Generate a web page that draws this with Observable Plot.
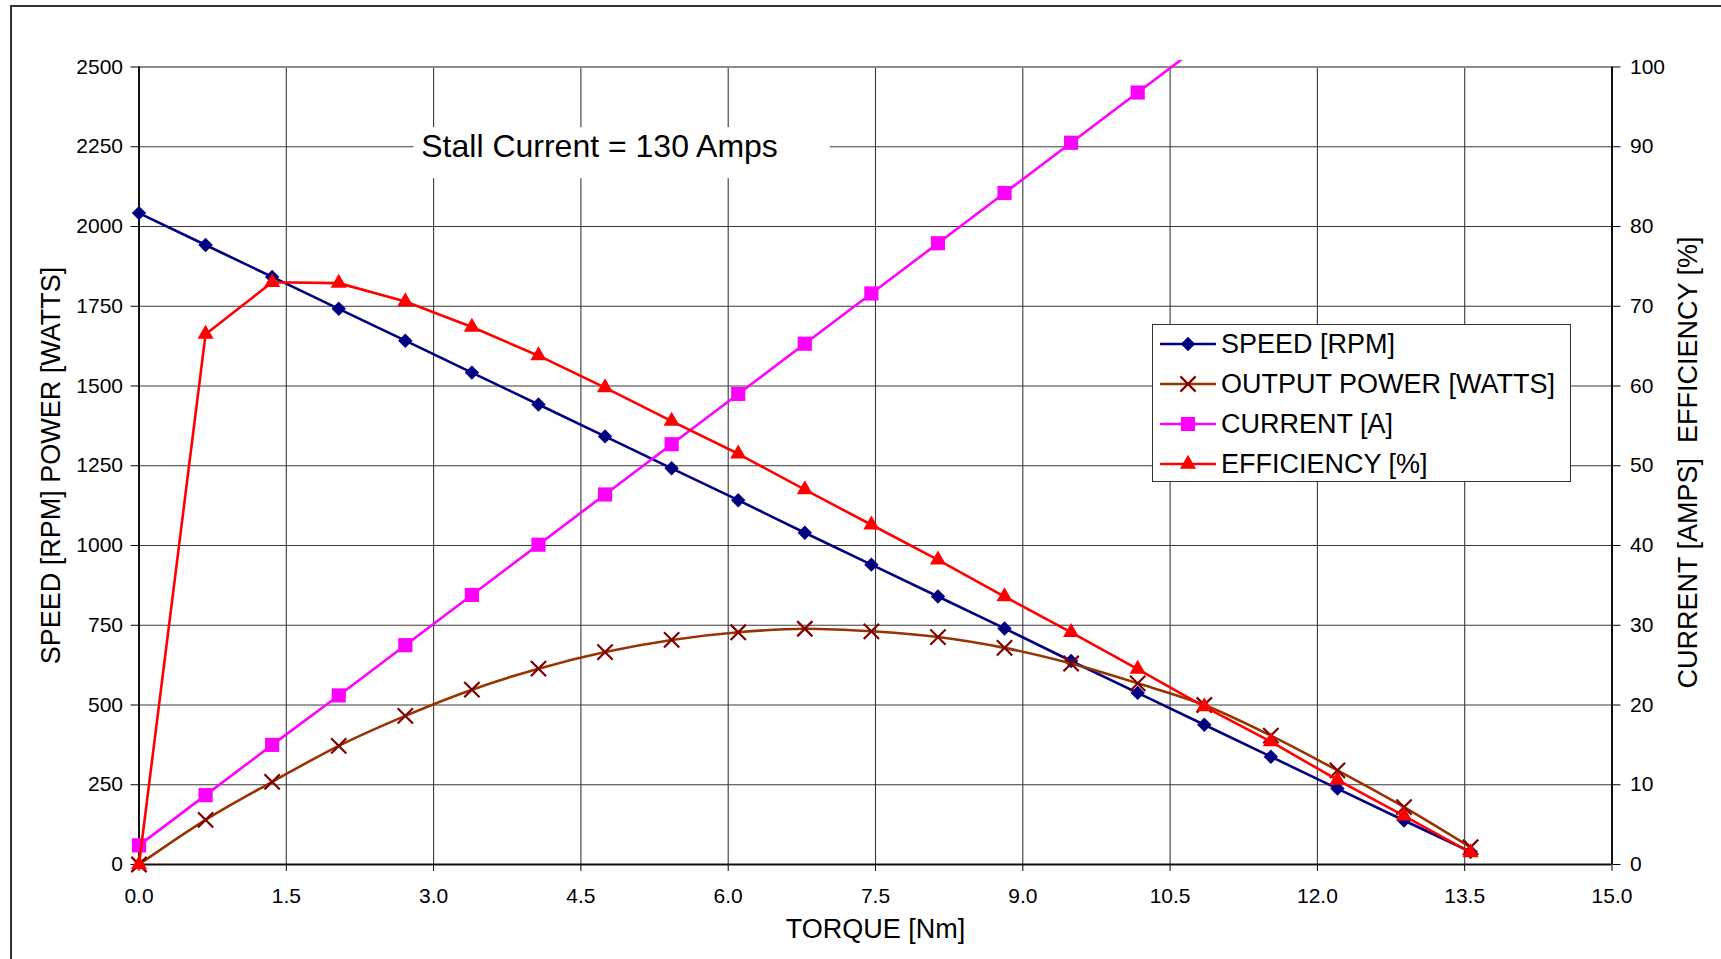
<!DOCTYPE html>
<html><head><meta charset="utf-8">
<script src="https://cdn.jsdelivr.net/npm/d3@7"></script>
<script src="https://cdn.jsdelivr.net/npm/@observablehq/plot@0.6"></script>
<style>
html,body{margin:0;padding:0;background:#fff;overflow:hidden;}
#wrap{position:relative;width:1721px;height:959px;font-family:"Liberation Sans",Arial,sans-serif;}
#chart{position:absolute;left:0;top:0;}
#border{position:absolute;left:10px;top:5px;width:1730px;height:970px;border-top:2px solid #333;border-left:2px solid #333;}
#legend{position:absolute;left:1152px;top:324px;width:417px;height:156px;border:1.5px solid #333;background:#fff;}
.row{position:absolute;left:0;height:40px;display:flex;align-items:center;font-size:27px;color:#000;white-space:nowrap;}
.row svg{margin-left:5px;margin-right:3px;}
</style></head>
<body><div id="wrap"><div id="chart"></div><div id="border"></div><div id="legend"></div></div>
<script>
// ---- data ----
const torque = [0, 0.678, 1.356, 2.034, 2.712, 3.39, 4.068, 4.746, 5.424, 6.102, 6.78, 7.458, 8.136, 8.814, 9.492, 10.17, 10.848, 11.526, 12.204, 12.882, 13.56];
const speed = [2042, 1942, 1842, 1742, 1642, 1542, 1442, 1342, 1242, 1142, 1040, 940, 840, 740, 638, 538, 438, 338, 238, 138, 40];
const power = [0, 140, 259, 372, 466, 548, 614, 666, 704, 728, 739, 731, 713, 679, 630, 568, 500, 404, 295, 180, 54];
const current = [2.4, 8.7, 15.0, 21.2, 27.5, 33.8, 40.1, 46.4, 52.7, 59.0, 65.3, 71.6, 77.9, 84.2, 90.5, 96.8, 103.1, 109.4, 115.7, 122.0, 128.3];
const efficiency = [0, 66.5, 73.0, 72.9, 70.6, 67.4, 63.8, 59.8, 55.6, 51.5, 47.0, 42.6, 38.2, 33.6, 29.1, 24.5, 19.8, 15.4, 10.6, 6.1, 1.5];
const xTicks = [0, 1.5, 3, 4.5, 6, 7.5, 9, 10.5, 12, 13.5, 15];
const leftTicks = [0, 250, 500, 750, 1000, 1250, 1500, 1750, 2000, 2250, 2500];
const rightTicks = [0, 10, 20, 30, 40, 50, 60, 70, 80, 90, 100];
const seriesNames = ["SPEED [RPM]", "OUTPUT POWER [WATTS]", "CURRENT [A]", "EFFICIENCY [%]"];
const seriesColors = ["#000080", "#993300", "#ff00ff", "#ff0000"];
const markerColors = ["#000080", "#800000", "#ff00ff", "#ff0000"];
const annotation = "Stall Current = 130 Amps";

const k = leftTicks[leftTicks.length - 1] / rightTicks[rightTicks.length - 1]; // secondary axis factor
const rows = torque.map((t, i) => ({t, speed: speed[i], power: power[i], current: current[i], eff: efficiency[i]}));

const font = '"Liberation Sans", Arial, sans-serif';
const plot = Plot.plot({
  width: 1721, height: 959,
  marginLeft: 138.5, marginRight: 109.5, marginTop: 60, marginBottom: 95,
  x: {domain: [0, 15]},
  y: {domain: [0, 2500], range: [864, 66.5]},
  style: {fontFamily: font, fontSize: "21px", color: "#000", background: "#fff", overflow: "visible"},
  marks: [
    Plot.gridY(leftTicks, {stroke: "#3a3a3a", strokeOpacity: 1, strokeWidth: 1.1}),
    Plot.ruleX(xTicks, {y1: 0, y2: 2500, stroke: "#3a3a3a", strokeWidth: 1.1}),
    Plot.ruleY([2500], {stroke: "#8a8a8a", strokeWidth: 2.2}),
    Plot.rect([annotation], {x1: 2.8, x2: 7.04, y1: 2150, y2: 2310, fill: "#fff"}),
    Plot.text([annotation], {x: 4.69, y: 2250, fontSize: 32, fill: "#000"}),
    Plot.axisX(xTicks, {tickFormat: d3.format(".1f"), tickSize: 7, tickPadding: 17, fontSize: 21, label: null}),
    Plot.axisY(leftTicks, {anchor: "left", tickFormat: d => String(d), tickSize: 8, tickPadding: 8, fontSize: 21, label: null}),
    Plot.axisY(rightTicks.map(v => v * k), {anchor: "right", tickFormat: d => String(d / k), tickSize: 8, tickPadding: 10, fontSize: 21, label: null}),
    Plot.ruleX([0], {y1: 0, y2: 2500, stroke: "#111", strokeWidth: 2}),
    Plot.ruleX([15], {y1: 0, y2: 2500, stroke: "#111", strokeWidth: 2}),
    Plot.ruleY([0], {stroke: "#111", strokeWidth: 2}),
    Plot.text(["SPEED [RPM] POWER [WATTS]"], {frameAnchor: "left", dx: -87.5, dy: 3, rotate: -90, textAnchor: "middle", lineAnchor: "middle", fontSize: 27, fill: "#000"}),
    Plot.text(["CURRENT [AMPS]\u00a0\u00a0EFFICIENCY [%]"], {frameAnchor: "right", dx: 76.5, rotate: -90, textAnchor: "middle", lineAnchor: "middle", fontSize: 27, fill: "#000"}),
    Plot.text(["TORQUE [Nm]"], {frameAnchor: "bottom", dy: 65, textAnchor: "middle", lineAnchor: "middle", fontSize: 27, fill: "#000"}),
    // series
    Plot.line(rows, {x: "t", y: "speed", stroke: seriesColors[0], strokeWidth: 2.6}),
    Plot.dot(rows, {x: "t", y: "speed", symbol: "diamond2", r: 6.5, fill: markerColors[0], stroke: "none"}),
    Plot.line(rows, {x: "t", y: "power", stroke: seriesColors[1], strokeWidth: 2.6, curve: "catmull-rom"}),
    Plot.dot(rows, {x: "t", y: "power", symbol: "times", r: 7, stroke: markerColors[1], strokeWidth: 2.2}),
    Plot.line(rows, {x: "t", y: d => d.current * k, stroke: seriesColors[2], strokeWidth: 2.6, clip: true}),
    Plot.dot(rows.filter(d => d.current <= 100), {x: "t", y: d => d.current * k, symbol: "square", r: 8, fill: markerColors[2], stroke: "none"}),
    Plot.line(rows, {x: "t", y: d => d.eff * k, stroke: seriesColors[3], strokeWidth: 2.6}),
    Plot.dot(rows, {x: "t", y: d => d.eff * k, symbol: "triangle", r: 6, fill: markerColors[3], stroke: "none"})
  ]
});
document.getElementById("chart").appendChild(plot);

// legend
const symbols = [d3.symbolDiamond2, d3.symbolTimes, d3.symbolSquare, d3.symbolTriangle];
const radii = [6.5, 7, 8, 6];
const legend = document.getElementById("legend");
seriesNames.forEach((name, i) => {
  const row = document.createElement("div");
  row.className = "row";
  row.style.top = (i * 40 - 1) + "px";
  const path = d3.symbol().type(symbols[i]).size(Math.PI * radii[i] * radii[i])();
  const isStroke = i === 1;
  row.innerHTML = `<svg width="60" height="40" viewBox="0 0 60 40"><line x1="2" x2="58" y1="20" y2="20" stroke="${seriesColors[i]}" stroke-width="2.6"/><path transform="translate(30,20)" d="${path}" ${isStroke ? `fill="none" stroke="${markerColors[i]}" stroke-width="2.2"` : `fill="${markerColors[i]}"`}/></svg><span>${name}</span>`;
  legend.appendChild(row);
});
</script>
</body></html>
